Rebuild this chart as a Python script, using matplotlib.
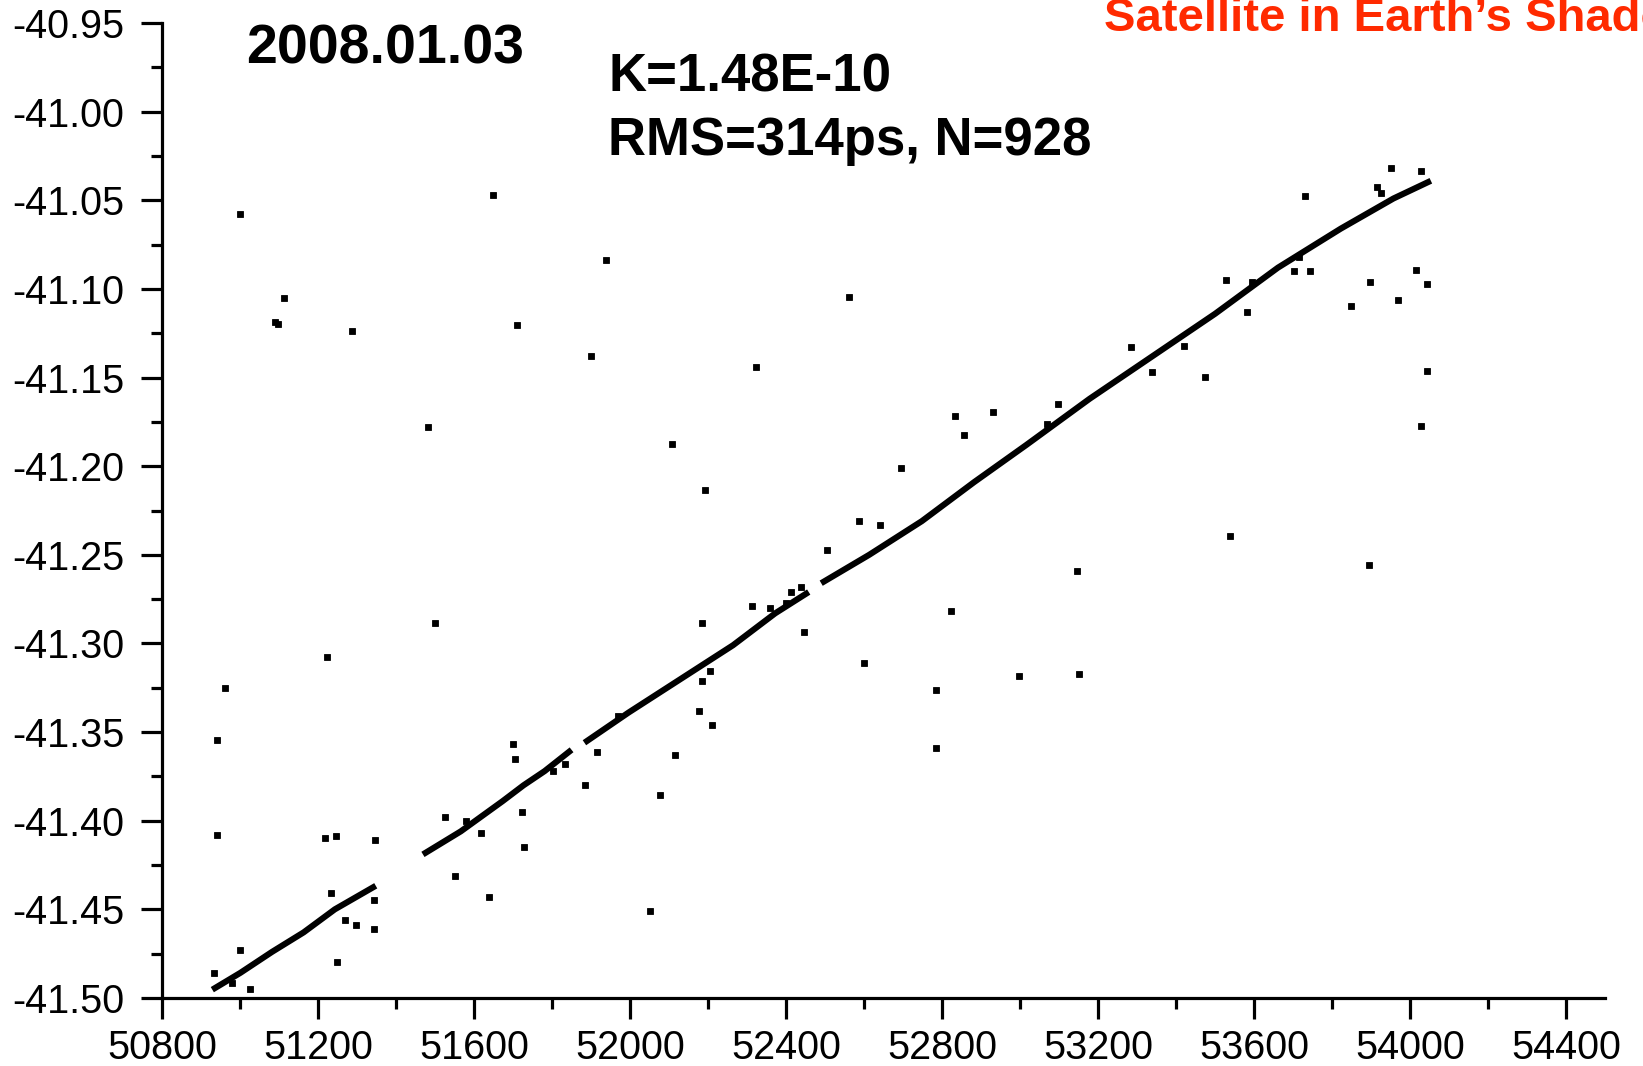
"""Clock offset vs time, satellite in Earth's shadow (2008.01.03)."""
import matplotlib as mpl
import matplotlib.pyplot as plt
from matplotlib.ticker import MultipleLocator, FormatStrFormatter

mpl.rcParams.update({"font.family": "Liberation Sans"})

seg1_x = [50929, 51001, 51082, 51163, 51243, 51348]
seg1_y = [-41.4953, -41.4858, -41.4740, -41.4630, -41.4500, -41.4367]
seg2_x = [51469, 51566, 51673, 51727, 51781, 51850]
seg2_y = [-41.4190, -41.4060, -41.3890, -41.3800, -41.3720, -41.3600]
seg3_x = [51883, 51996, 52130, 52264, 52372, 52458]
seg3_y = [-41.3560, -41.3390, -41.3200, -41.3010, -41.2830, -41.2710]
seg4_x = [52490, 52613, 52748, 52882, 53016, 53178, 53339, 53500, 53661, 53822, 53957, 54053]
seg4_y = [-41.2660, -41.2500, -41.2310, -41.2090, -41.1880, -41.1620, -41.1380,
          -41.1140, -41.0880, -41.0660, -41.0490, -41.0390]

# ---- points scattered close to the track ----
near_x = [50934, 50980, 51026, 51001, 51233, 51270, 51297, 51343, 51343,
          51525, 51579, 51619, 51802, 51834, 51916, 51969,
          52313, 52358, 52399, 52412, 52439, 52587, 52640,
          53070, 53097, 53285, 53339, 53419, 53527, 53581, 53594,
          53701, 53715, 53742, 53924]
near_y = [-41.4860, -41.4917, -41.4950, -41.4728, -41.4410, -41.4560, -41.4586,
          -41.4447, -41.4610,
          -41.3980, -41.4000, -41.4070, -41.3720, -41.3680, -41.3610, -41.3410,
          -41.2790, -41.2800, -41.2770, -41.2710, -41.2680, -41.2310, -41.2330,
          -41.1760, -41.1650, -41.1330, -41.1470, -41.1320, -41.0950, -41.1130,
          -41.0960, -41.0900, -41.0820, -41.0900, -41.0460]

# ---- outliers ----
out_x = [50999, 51090, 51098, 51114, 51286, 51649, 51939, 51711, 51899, 51482,
         52323, 52108, 52192, 52560, 51499, 51222, 50961, 50942, 50940, 51219,
         51246, 51345, 51552, 51638, 52052, 51249, 51885, 52076, 52116, 52178,
         52210, 52184, 52205, 52184, 51700, 51705, 51722, 51727, 52600, 52447,
         52785, 52785, 52823, 52998, 53151, 53145, 53538, 53895, 54043, 54029,
         54043, 54016, 53970, 53898, 53849, 53731, 53951, 54029, 53916, 52930,
         52834, 52855, 52694, 52506, 53473]
out_y = [-41.0576, -41.1186, -41.1197, -41.1049, -41.1239, -41.0470, -41.0837,
         -41.1203, -41.1381, -41.1777, -41.1440, -41.1877, -41.2132, -41.1044,
         -41.2883, -41.3078, -41.3250, -41.3545, -41.4083, -41.4095, -41.4089,
         -41.4107, -41.4314, -41.4432, -41.4509, -41.4799, -41.3800, -41.3853,
         -41.3628, -41.3380, -41.3462, -41.3214, -41.3155, -41.2883, -41.3569,
         -41.3652, -41.3953, -41.4148, -41.3108, -41.2936, -41.3261, -41.3587,
         -41.2818, -41.3184, -41.3173, -41.2593, -41.2392, -41.2558, -41.1463,
         -41.1771, -41.0973, -41.0896, -41.1061, -41.0961, -41.1097, -41.0476,
         -41.0316, -41.0334, -41.0423, -41.1694, -41.1718, -41.1824, -41.2013,
         -41.2475, -41.1499]

fig = plt.figure(figsize=(16.43, 10.66), dpi=100)
ax = fig.add_axes([0.0986, 0.0638, 0.8784, 0.9146])

for sx, sy in [(seg1_x, seg1_y), (seg2_x, seg2_y), (seg3_x, seg3_y), (seg4_x, seg4_y)]:
    ax.plot(sx, sy, color="k", lw=4.4, solid_capstyle="butt", zorder=3)
ax.plot(near_x, near_y, "s", color="k", ms=4.2, mew=0.6, zorder=3)
ax.plot(out_x, out_y, "s", color="k", ms=4.2, mew=0.6, zorder=3)

ax.set_xlim(50800, 54500)
ax.set_ylim(-41.50, -40.95)
ax.xaxis.set_major_locator(MultipleLocator(400))
ax.xaxis.set_minor_locator(MultipleLocator(200))
ax.yaxis.set_major_locator(MultipleLocator(0.05))
ax.yaxis.set_minor_locator(MultipleLocator(0.025))
ax.yaxis.set_major_formatter(FormatStrFormatter("%.2f"))

for s in ["top", "right"]:
    ax.spines[s].set_visible(False)
for s in ["left", "bottom"]:
    ax.spines[s].set_linewidth(2.3)
ax.tick_params(which="major", direction="out", length=15, width=2.3, labelsize=28.5)
ax.tick_params(which="minor", direction="out", length=8, width=2.3)
ax.tick_params(axis="x", which="major", pad=7)
ax.tick_params(axis="y", which="major", pad=12)

fig.text(246 / 1643, 1 - 63 / 1066, "2008.01.03", fontsize=40, fontweight="bold")
fig.text(608 / 1643, 1 - 92 / 1066, "K=1.48E-10", fontsize=38, fontweight="bold")
fig.text(608 / 1643, 1 - 155 / 1066, "RMS=314ps, N=928", fontsize=38, fontweight="bold")
fig.text(1104 / 1643, 1 - 31 / 1066, "Satellite in Earth\u2019s Shadow", fontsize=34,
         fontweight="bold", color="#ff2a00")

fig.savefig("out.png", dpi=100)
